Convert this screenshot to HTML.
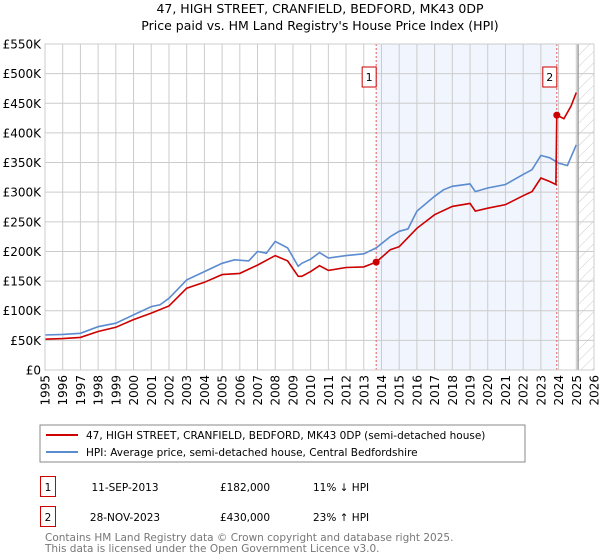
<!DOCTYPE html>
<html><head><meta charset="utf-8"><style>
body{margin:0;background:#fff;font-family:"Liberation Sans","DejaVu Sans",sans-serif;}
#wrap{position:relative;width:600px;height:560px;overflow:hidden}
svg text{font-family:"DejaVu Sans","Liberation Sans",sans-serif}
</style></head><body>
<div id="wrap">
<svg id="chart" width="600" height="560">
<text x="320" y="13" text-anchor="middle" font-size="12.5" fill="#000">47, HIGH STREET, CRANFIELD, BEDFORD, MK43 0DP</text>
<text x="320" y="30" text-anchor="middle" font-size="12.5" fill="#000">Price paid vs. HM Land Registry's House Price Index (HPI)</text>
<g id="plot"></g>
<rect x="40" y="425" width="485" height="37" fill="#fff" stroke="#888"/>
<line x1="46" y1="435" x2="78" y2="435" stroke="#cc0000" stroke-width="2"/>
<text x="86" y="439" font-size="10.5">47, HIGH STREET, CRANFIELD, BEDFORD, MK43 0DP (semi-detached house)</text>
<line x1="46" y1="452" x2="78" y2="452" stroke="#5b8bd0" stroke-width="2"/>
<text x="86" y="456" font-size="10.5">HPI: Average price, semi-detached house, Central Bedfordshire</text>
<rect x="40.5" y="476.5" width="15" height="20" fill="none" stroke="#cc0000"/>
<text x="48" y="491" text-anchor="middle" font-size="10.5">1</text>
<text x="125" y="491" text-anchor="middle" font-size="10.5">11-SEP-2013</text>
<text x="245" y="491" text-anchor="middle" font-size="10.5">£182,000</text>
<text x="313" y="491" font-size="10.5">11% ↓ HPI</text>
<rect x="40.5" y="506.5" width="15" height="20" fill="none" stroke="#cc0000"/>
<text x="48" y="521" text-anchor="middle" font-size="10.5">2</text>
<text x="125" y="521" text-anchor="middle" font-size="10.5">28-NOV-2023</text>
<text x="245" y="521" text-anchor="middle" font-size="10.5">£430,000</text>
<text x="313" y="521" font-size="10.5">23% ↑ HPI</text>
<text x="45" y="541" font-size="10.5" fill="#777">Contains HM Land Registry data © Crown copyright and database right 2025.</text>
<text x="45" y="552" font-size="10.5" fill="#777">This data is licensed under the Open Government Licence v3.0.</text>
</svg></div>
<script>
const hpiYears=[1995,1996,1997,1998,1999,2000,2001,2001.5,2002,2003,2004,2005,2005.7,2006.5,2007,2007.5,2008,2008.7,2009.3,2009.5,2010,2010.5,2011,2012,2013,2013.7,2014.5,2015,2015.5,2016,2017,2017.5,2018,2019,2019.3,2020,2021,2022,2022.5,2023,2023.5,2024,2024.5,2025];
const hpiValues=[59,60,62,73,79,93,107,110,121,152,166,180,186,184,200,197,217,206,175,180,187,198,189,193,196,206,225,234,238,268,293,304,310,314,301,307,313,330,338,362,358,349,345,380];
const priceYears=[1995,1996,1997,1998,1999,2000,2001,2002,2003,2004,2005,2006,2007,2008,2008.7,2009.3,2009.5,2010,2010.5,2011,2012,2013,2013.7,2014.5,2015,2016,2017,2018,2019,2019.3,2020,2021,2022,2022.5,2023,2023.5,2023.85,2023.9,2024.3,2024.7,2025];
const priceValues=[52,53,55,65,72,85,96,108,138,148,161,163,177,193,184,158,158,166,176,168,173,174,182,203,208,239,262,276,281,268,273,279,294,301,324,318,313,430,424,445,468];
const saleYears=[2013.7,2023.9];
const saleValues=[182,430];
const saleLabels=["1","2"];
const yTicks=[0,50,100,150,200,250,300,350,400,450,500,550];
const yTickLabels=["£0","£50K","£100K","£150K","£200K","£250K","£300K","£350K","£400K","£450K","£500K","£550K"];
const xTicks=[1995,1996,1997,1998,1999,2000,2001,2002,2003,2004,2005,2006,2007,2008,2009,2010,2011,2012,2013,2014,2015,2016,2017,2018,2019,2020,2021,2022,2023,2024,2025,2026];

const L=45,R=594,T=44,B=370,X0=1995,X1=2026,Ymax=550;
const sx=y=>L+(y-X0)/(X1-X0)*(R-L);
const sy=v=>B-v/Ymax*(B-T);
const NS="http://www.w3.org/2000/svg";
const g=document.getElementById('plot');
function mk(tag,attrs){const e=document.createElementNS(NS,tag);for(const k in attrs)e.setAttribute(k,attrs[k]);g.appendChild(e);return e;}
let e;
e=mk('rect',{x:sx(saleYears[0]),y:T,width:sx(saleYears[1])-sx(saleYears[0]),height:B-T,fill:'#eef3fc',opacity:0.8});


const defs=document.createElementNS(NS,'defs');
defs.innerHTML='<pattern id="hatch" width="8" height="8" patternUnits="userSpaceOnUse" patternTransform="rotate(45)"><line x1="0" y1="0" x2="0" y2="8" stroke="#ccc" stroke-width="1"/></pattern>';
g.appendChild(defs);
e=mk('rect',{x:sx(2025.1),y:T,width:R-sx(2025.1),height:B-T,fill:'url(#hatch)'});


yTicks.forEach((v,i)=>{
 e=mk('line',{x1:L,x2:R,y1:sy(v),y2:sy(v),stroke:'#ccc'});
 
 
 e=mk('text',{x:41,y:sy(v)+4.5,'text-anchor':'end','font-size':'12'});
 e.textContent=yTickLabels[i];
 
 
});
xTicks.forEach(y=>{
 e=mk('line',{x1:sx(y),x2:sx(y),y1:T,y2:B,stroke:'#ccc'});
 
 
 e=mk('text',{x:0,y:0,'font-size':'12','text-anchor':'end',transform:`translate(${sx(y)+4.5},375) rotate(-90)`});
 e.textContent=y;
 
 
});
e=mk('line',{x1:sx(2025.1),x2:sx(2025.1),y1:T,y2:B,stroke:'#888','stroke-width':1.2});


saleYears.forEach((y,i)=>{
 e=mk('line',{x1:sx(y),x2:sx(y),y1:T,y2:B,stroke:'#ee5555','stroke-dasharray':'2,2'});
 
 
});
function path(xs,vs,color,name){
 const d=xs.map((x,i)=>(i?'L':'M')+sx(x).toFixed(1)+','+sy(vs[i]).toFixed(1)).join('');
 e=mk('path',{d:d,fill:'none',stroke:color,'stroke-width':1.6});
 
 
}
path(hpiYears,hpiValues,'#5b8bd0','hpi-line');
path(priceYears,priceValues,'#cc0000','property-line');
saleYears.forEach((y,i)=>{
 e=mk('circle',{cx:sx(y),cy:sy(saleValues[i]),r:3.5,fill:'#cc0000'});
 
 
 e=mk('rect',{x:sx(y)-14,y:67,width:14,height:20,fill:'#fff',stroke:'#cc0000'});
 
 
 e=mk('text',{x:sx(y)-7,y:81,'text-anchor':'middle','font-size':'11'});
 e.textContent=saleLabels[i];
 
 
});
e=mk('rect',{x:L,y:T,width:R-L,height:B-T,fill:'none',stroke:'#ccc'});


</script>
</body></html>
